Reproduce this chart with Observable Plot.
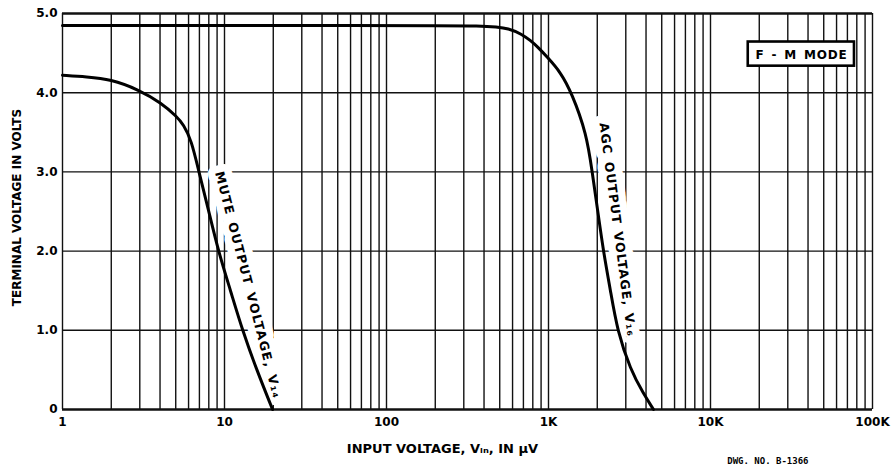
<!DOCTYPE html>
<html>
<head>
<meta charset="utf-8">
<script src="https://cdn.jsdelivr.net/npm/d3@7"></script>
<script src="https://cdn.jsdelivr.net/npm/@observablehq/plot@0.6"></script>
<style>
  body { margin: 0; background: #fff; }
  #chart { width: 892px; height: 473px; }
</style>
</head>
<body>
<div id="chart"></div>
<script>
// Mute output voltage V14 (input µV, volts)
const muteX = [1, 1.41, 1.98, 2.94, 4.08, 5.06, 5.58, 6.25, 6.95, 7.9, 9.15, 10.9, 12.9, 15.8, 19.8];
const muteY = [4.22, 4.2, 4.17, 4.04, 3.87, 3.7, 3.6, 3.4, 3.0, 2.55, 2.0, 1.5, 1.0, 0.5, 0];

// AGC output voltage V16
const agcX = [1, 100, 438, 574, 681, 774, 855, 982, 1186, 1390, 1720, 1860, 2000, 2180, 2414, 2655, 3206, 3855, 4449];
const agcY = [4.85, 4.85, 4.85, 4.81, 4.74, 4.66, 4.58, 4.45, 4.26, 4.0, 3.48, 3.0, 2.55, 2.0, 1.5, 1.0, 0.5, 0.2, 0];

// Axis ticks
const xTickValues = [1, 10, 100, 1000, 10000, 100000];
const xTickLabels = ["1", "10", "100", "1K", "10K", "100K"];
const yTickValues = [0, 1, 2, 3, 4, 5];
const yTickLabels = ["0", "1.0", "2.0", "3.0", "4.0", "5.0"];

// Log grid
const gridDecades = [1, 10, 100, 1000, 10000];
const gridMultipliers = [1, 2, 3, 4, 5, 6, 7, 8, 9];
const gridX = gridDecades.flatMap(d => gridMultipliers.map(m => d * m)).concat([100000]);
const gridY = [1, 2, 3, 4];

// Titles and annotations
const xTitle = ["INPUT VOLTAGE, Vᵢₙ, IN μV"];
const yTitle = ["TERMINAL VOLTAGE IN VOLTS"];
const drawingNo = ["DWG. NO. B-1366"];
const labelText = ["MUTE OUTPUT VOLTAGE, V₁₄", "AGC OUTPUT VOLTAGE, V₁₆"];
const labelX = [14.0, 2667];
const labelY = [1.57, 2.27];
const modeText = ["F - M MODE"];
const modeX = [36500];
const modeY = [4.47];
const modeBoxX1 = [17100], modeBoxX2 = [77400], modeBoxY1 = [4.335], modeBoxY2 = [4.64];

const mute = muteX.map((x, i) => ({x, y: muteY[i]}));
const agc = agcX.map((x, i) => ({x, y: agcY[i]}));
const fmt = (vals, labs) => d => labs[vals.indexOf(d)];

const chart = Plot.plot({
  width: 892,
  height: 473,
  marginLeft: 62,
  marginRight: 20,
  marginTop: 13,
  marginBottom: 64,
  style: { fontFamily: "'DejaVu Sans', sans-serif", fontWeight: "bold", fontSize: "12px", background: "#fff", color: "#000", overflow: "visible" },
  x: { type: "log", domain: [1, 100000] },
  y: { domain: [0, 5] },
  marks: [
    Plot.ruleX(gridX, { stroke: "#111", strokeWidth: 1.4 }),
    Plot.ruleY(gridY, { stroke: "#111", strokeWidth: 1.4 }),
    Plot.ruleY([5], { stroke: "#111", strokeWidth: 2.4 }),
    Plot.ruleY([0], { stroke: "#111", strokeWidth: 2.6 }),
    Plot.text([0], { x: () => labelX[0], y: () => labelY[0], text: () => labelText[0], rotate: 75.5, fontSize: 12.5, fontWeight: "bold", fill: "#000", stroke: "#fff", strokeWidth: 15, strokeLinejoin: "round" }),
    Plot.text([1], { x: () => labelX[1], y: () => labelY[1], text: () => labelText[1], rotate: 82.5, fontSize: 12.5, fontWeight: "bold", fill: "#000", stroke: "#fff", strokeWidth: 15, strokeLinejoin: "round" }),
    Plot.line(mute, { x: "x", y: "y", curve: "basis", stroke: "#000", strokeWidth: 3 }),
    Plot.line(agc, { x: "x", y: "y", curve: "basis", stroke: "#000", strokeWidth: 3 }),
    Plot.rect([0], { x1: () => modeBoxX1[0], x2: () => modeBoxX2[0], y1: () => modeBoxY1[0], y2: () => modeBoxY2[0], fill: "#fff", stroke: "#000", strokeWidth: 2.6 }),
    Plot.text([0], { x: () => modeX[0], y: () => modeY[0], text: () => modeText[0], fontSize: 12, fontWeight: "bold", fill: "#000" }),
    Plot.axisX({ ticks: xTickValues, tickFormat: fmt(xTickValues, xTickLabels), tickSize: 0, tickPadding: 8, fontSize: 12, label: null }),
    Plot.axisY({ ticks: yTickValues, tickFormat: fmt(yTickValues, yTickLabels), tickSize: 0, tickPadding: 5, fontSize: 12, label: null }),
    Plot.text(xTitle, { frameAnchor: "bottom", text: d => d, fontSize: 13, fontWeight: "bold", dx: -25, dy: 43 }),
    Plot.text(yTitle, { frameAnchor: "left", text: d => d, fontSize: 12, fontWeight: "bold", rotate: -90, textAnchor: "middle", dx: -45, dy: -4 }),
    Plot.text(drawingNo, { frameAnchor: "bottom-right", text: d => d, fontFamily: "'DejaVu Sans Mono', monospace", fontSize: 9, fontWeight: "bold", textAnchor: "end", dx: -64, dy: 54 })
  ]
});

// letter spacing for the hand-lettered annotations
d3.select(chart).selectAll("text").each(function () {
  const t = this.textContent;
  if (t === labelText[0]) d3.select(this).attr("letter-spacing", "1.3px").attr("word-spacing", "2px");
  if (t === labelText[1]) d3.select(this).attr("letter-spacing", "1.0px").attr("word-spacing", "2px");
  if (modeText.includes(t)) d3.select(this).attr("letter-spacing", "0.8px").attr("word-spacing", "2px");
});
document.getElementById("chart").appendChild(chart);
</script>
</body>
</html>
